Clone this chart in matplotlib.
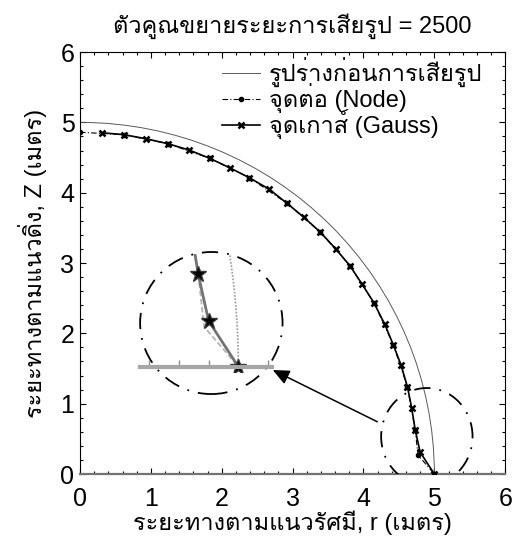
import matplotlib
matplotlib.use("Agg")
import matplotlib.pyplot as plt
from matplotlib import font_manager
from matplotlib.ft2font import FT2Font
from matplotlib.patches import Arc, Ellipse
from matplotlib.lines import Line2D
from matplotlib.ticker import MultipleLocator

# ---- data -------------------------------------------------------------
title = "ตัวคูณขยายระยะการเสียรูป = 2500"
xlabel = "ระยะทางตามแนวรัศมี, r (เมตร)"
ylabel = "ระยะทางตามแนวดิ่ง, Z (เมตร)"
legend_labels = ["รูปร่างก่อนการเสียรูป", "จุดต่อ (Node)", "จุดเกาส์ (Gauss)"]

radius_undeformed = 5.0

gauss_r = [0.305, 0.62, 0.93, 1.24, 1.54, 1.83, 2.11, 2.39, 2.67, 2.92, 3.16, 3.39,
           3.61, 3.81, 3.98, 4.15, 4.30, 4.42, 4.53, 4.62, 4.68, 4.73, 4.80, 5.00]
gauss_z = [4.853, 4.825, 4.768, 4.697, 4.607, 4.489, 4.356, 4.213, 4.05, 3.85, 3.65, 3.44,
           3.20, 2.96, 2.70, 2.43, 2.13, 1.84, 1.55, 1.24, 0.94, 0.626, 0.31, 0.0]

node_r = [0.0, 0.62, 1.24, 1.83, 2.39, 2.92, 3.39, 3.81, 4.15, 4.42, 4.62, 4.73, 4.77, 5.0]
node_z = [4.86, 4.825, 4.697, 4.489, 4.213, 3.85, 3.44, 2.96, 2.43, 1.84, 1.24, 0.626, 0.27, 0.0]

x_ticks = [0, 1, 2, 3, 4, 5, 6]
y_ticks = [0, 1, 2, 3, 4, 5, 6]


# ---- fonts: Latin in an Arial-like face, Thai from any face that has it --
def find_thai_family():
    for f in font_manager.fontManager.ttflist:
        try:
            cmap = FT2Font(f.fname).get_charmap()
        except Exception:
            continue
        if 0x0E01 in cmap and 0x0E32 in cmap and 0x0E21 in cmap:
            return f.name
    return None


thai = find_thai_family()
families = ["Liberation Sans"] + ([thai] if thai else []) + ["DejaVu Sans"]
plt.rcParams["font.family"] = families

FS = 17

fig = plt.figure(figsize=(5.23, 5.48), dpi=100)
ax = fig.add_axes([0.153, 0.135, 0.813, 0.770])

# undeformed shape: quarter circle
ax.add_patch(Arc((0, 0), 2 * radius_undeformed, 2 * radius_undeformed, theta1=0, theta2=90,
                 color="0.35", lw=0.7, zorder=2))
# nodes (dash-dot, small dots) and Gauss points (solid, crosses)
ax.plot(node_r, node_z, color="black", lw=0.8, ls=(0, (5, 2, 1, 2)), marker="o", ms=3,
        zorder=3)
ax.plot(gauss_r, gauss_z, color="black", lw=1.2, marker="x", ms=5, mew=1.8, zorder=4)

ax.set_xlim(0, 6)
ax.set_ylim(0, 6)
ax.set_xticks(x_ticks)
ax.set_yticks(y_ticks)
ax.xaxis.set_minor_locator(MultipleLocator(0.2))
ax.yaxis.set_minor_locator(MultipleLocator(0.2))
ax.tick_params(which="both", direction="in", top=True, right=True, width=0.8, color="black")
ax.tick_params(which="major", length=4.5, labelsize=18)
ax.tick_params(which="minor", length=2.5)
ax.tick_params(axis="x", which="major", pad=9)
ax.tick_params(axis="y", which="major", pad=4)
for s in ax.spines.values():
    s.set_linewidth(0.8)
ax.spines["bottom"].set_color("0.45")
ax.spines["bottom"].set_linewidth(1.6)

ax.set_title(title, fontsize=FS, pad=14)
ax.set_xlabel(xlabel, fontsize=FS, labelpad=0)
ax.set_ylabel(ylabel, fontsize=FS, labelpad=10)

# legend
handles = [
    Line2D([], [], color="0.35", lw=0.7),
    Line2D([], [], color="black", lw=0.8, ls=(0, (5, 2, 1, 2)), marker="o", ms=3),
    Line2D([], [], color="black", lw=1.2, marker="x", ms=5, mew=1.8),
]
ax.legend(handles, legend_labels, loc="upper left", bbox_to_anchor=(0.334, 0.988),
          frameon=False, fontsize=FS, handlelength=1.6, handletextpad=0.4,
          labelspacing=-0.18, borderaxespad=0.0, borderpad=0.0)

# dash-dot circles marking the magnified region
circ_style = dict(fill=False, color="black", lw=1.3, ls=(0, (9, 5, 1, 5)), zorder=5)
ax.add_patch(Ellipse((4.894, 0.533), 1.29, 1.38, **circ_style))
ax.add_patch(Ellipse((1.853, 2.147), 2.01, 2.02, **circ_style))
ax.annotate("", xy=(2.72, 1.479), xytext=(4.195, 0.743),
            arrowprops=dict(arrowstyle="-|>,head_length=1.0,head_width=0.45",
                            color="black", lw=1.1, shrinkA=0, shrinkB=0), zorder=6)

# magnified view of the support region
ins = fig.add_axes([0.2677, 0.3212, 0.2524, 0.2153])
ins.patch.set_alpha(0)
ins.add_patch(Arc((0, 0), 2 * radius_undeformed, 2 * radius_undeformed, theta1=0, theta2=90,
                  color="0.6", lw=1.2, ls=(0, (1, 1))))
ins.plot(node_r, node_z, color="0.7", lw=1.3, ls=(0, (3, 1.5)))
ins.plot(gauss_r, gauss_z, color="0.45", lw=2.0)
ins.plot(gauss_r, gauss_z, ls="none", marker="*", ms=12, color="black", mec="0.2")
ins.set_xlim(4.338, 5.227)
ins.set_ylim(-0.036, 0.763)
for k in ("top", "left", "right"):
    ins.spines[k].set_visible(False)
ins.spines["bottom"].set_position(("data", 0))
ins.spines["bottom"].set_color("0.65")
ins.spines["bottom"].set_linewidth(3)
ins.set_xticks([4.4, 4.6, 4.8, 5.0, 5.2])
ins.set_yticks([])
ins.tick_params(axis="x", direction="in", length=5, width=1, color="0.55", labelbottom=False)

fig.savefig("out.png", dpi=100)
